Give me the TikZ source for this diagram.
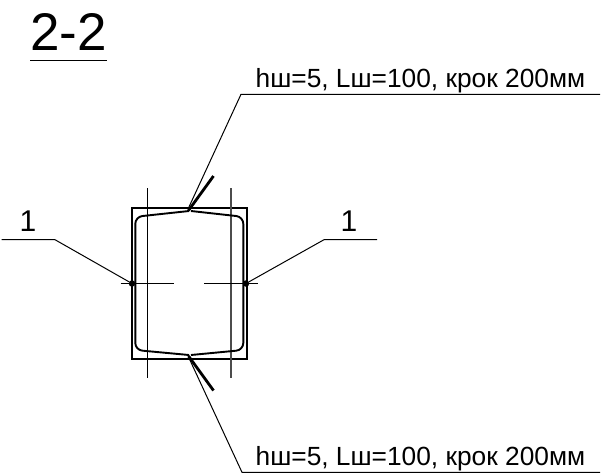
\documentclass[tikz,border=0pt]{standalone}
\usepackage{fontspec}
\setmainfont{Liberation Sans}
\tikzset{
  x=1pt,y=-1pt,
  thinln/.style={line width=1pt,black},
  grayln/.style={line width=1.1pt,black!70},
  rectln/.style={line width=1.9pt,black},
  rebar/.style={line width=1.9pt,black,line join=round},
  hook/.style={line width=2.8pt,black},
  lbl/.style={inner sep=0pt,anchor=base west,font=\fontsize{26.3}{30}\selectfont},
  num/.style={inner sep=0pt,anchor=base,font=\fontsize{30}{34}\selectfont},
  ttl/.style={inner sep=0pt,anchor=base west,font=\fontsize{53}{60}\selectfont},
  dotn/.style={circle,fill=black,inner sep=0pt,minimum size=6.5pt},
}
\begin{document}
\begin{tikzpicture}
\useasboundingbox (0,0) rectangle (604,474);
% title
\node[ttl] (title) at (30,50) {2-2};
\coordinate (ta) at (30,60.4);
\coordinate (tb) at (107,60.4);
\draw[thinln] (ta) -- (tb);
% column outline
\draw[rectln] (131.7,207.7) rectangle (246.7,359);
% thin lines
\draw[thinln] (147.5,188) -- (147.5,378);
\draw[grayln] (231,188) -- (231,378);
\draw[thinln] (120.7,283.5) -- (174,283.5);
\draw[thinln] (204,283.5) -- (257.7,283.5);
% stirrup
\draw[rebar,rounded corners=7pt] (189,211) -- (135.3,216.8) -- (135.3,350) -- (189,355);
\draw[rebar,rounded corners=7pt] (191,211) -- (243.3,216.8) -- (243.3,350) -- (191,355);
\draw[hook] (188.5,210.5) -- (213.5,176);
\draw[hook] (188.5,356) -- (213.5,390.5);
% dots
\node[dotn] (dl) at (132,283.5) {};
\node[dotn] (dr) at (246,283.5) {};
% left and right marks
\coordinate (l1) at (1.5,239.7);
\coordinate (l2) at (55,239.7);
\coordinate (r1) at (377,239.7);
\coordinate (r2) at (324,239.7);
\draw[thinln] (l1) -- (l2) -- (dl);
\draw[thinln] (r1) -- (r2) -- (dr);
\node[num] (nl) at (28,231.7) {1};
\node[num] (nr) at (349,231.7) {1};
% leaders
\coordinate (a0) at (188.5,208);
\coordinate (a1) at (241,94.3);
\coordinate (a2) at (600,94.3);
\coordinate (b0) at (188.5,357);
\coordinate (b1) at (242,472.3);
\coordinate (b2) at (600,472.3);
\draw[thinln] (a0) -- (a1) -- (a2);
\draw[thinln] (b0) -- (b1) -- (b2);
\node[lbl] (ltop) at (255.5,87.3) {hш=5, Lш=100, крок 200мм};
\node[lbl] (lbot) at (255.5,465) {hш=5, Lш=100, крок 200мм};
\end{tikzpicture}
\end{document}
